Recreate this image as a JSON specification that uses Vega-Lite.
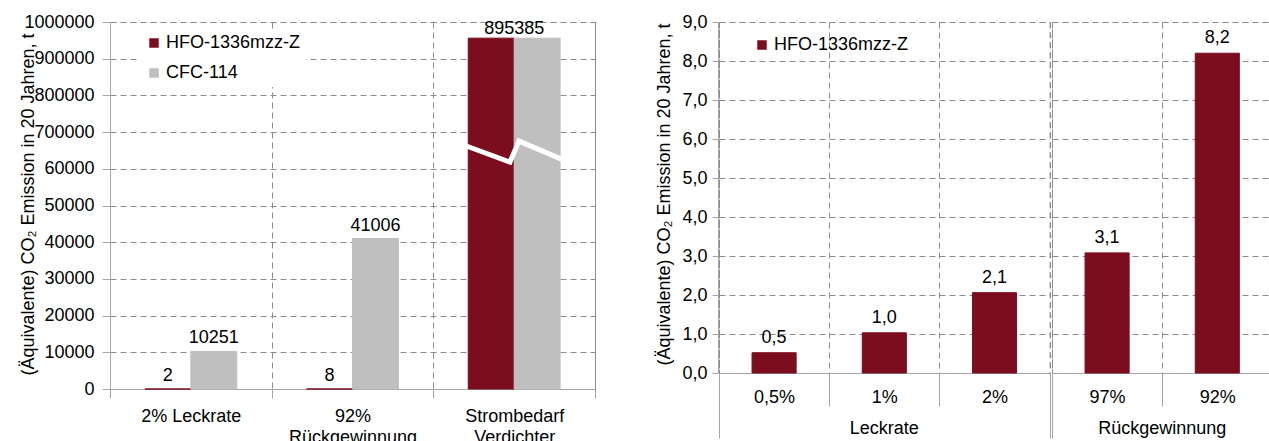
{
  "$schema": "https://vega.github.io/schema/vega-lite/v6.json",
  "padding": {"left": 18, "top": 12, "right": 0, "bottom": 0},
  "datasets": {
    "left": [
      {"cat": "2% Leckrate", "series": "HFO-1336mzz-Z", "value": 2, "label": "2"},
      {"cat": "2% Leckrate", "series": "CFC-114", "value": 10251, "label": "10251"},
      {"cat": "92% Rückgewinnung", "series": "HFO-1336mzz-Z", "value": 8, "label": "8"},
      {"cat": "92% Rückgewinnung", "series": "CFC-114", "value": 41006, "label": "41006"},
      {"cat": "Strombedarf Verdichter", "series": "HFO-1336mzz-Z", "value": 956000},
      {"cat": "Strombedarf Verdichter", "series": "CFC-114", "value": 956000}
    ],
    "leftTotal": [
      {"cat": "Strombedarf Verdichter", "value": 956000, "label": "895385"}
    ],
    "breakLine": [
      {"pos": 2.2, "level": 462000},
      {"pos": 2.474, "level": 176840},
      {"pos": 2.53, "level": 543050},
      {"pos": 2.8, "level": 220000}
    ],
    "right": [
      {"group": "Leckrate", "cat": "0,5%", "series": "HFO-1336mzz-Z", "value": 0.52},
      {"group": "Leckrate", "cat": "1%", "series": "HFO-1336mzz-Z", "value": 1.03},
      {"group": "Leckrate", "cat": "2%", "series": "HFO-1336mzz-Z", "value": 2.06},
      {"group": "Rückgewinnung", "cat": "97%", "series": "HFO-1336mzz-Z", "value": 3.08},
      {"group": "Rückgewinnung", "cat": "92%", "series": "HFO-1336mzz-Z", "value": 8.2}
    ]
  },
  "spacing": 59,
  "resolve": {"scale": {"color": "independent", "stroke": "independent"}, "legend": {"color": "independent"}},
  "hconcat": [
    {
      "width": 485,
      "height": 367,
      "resolve": {"scale": {"x": "independent"}},
      "layer": [
        {
          "layer": [
            {
              "data": {"name": "left"},
              "mark": {"type": "bar", "strokeWidth": 1},
              "encoding": {
                "x": {
                  "field": "cat", "type": "nominal",
                  "sort": ["2% Leckrate", "92% Rückgewinnung", "Strombedarf Verdichter"],
                  "scale": {"paddingInner": 0, "paddingOuter": 0},
                  "axis": {
                    "title": null, "labelAngle": 0, "tickBand": "extent", "grid": true,
                    "tickSize": 9, "labelPadding": 9, "labelBaseline": "top", "labelLineHeight": 21,
                    "labelExpr": "datum.label == '92% Rückgewinnung' ? ['92%', 'Rückgewinnung'] : datum.label == 'Strombedarf Verdichter' ? ['Strombedarf', 'Verdichter'] : datum.label"
                  }
                },
                "xOffset": {
                  "field": "series", "type": "nominal",
                  "sort": ["HFO-1336mzz-Z", "CFC-114"],
                  "scale": {"paddingInner": 0, "paddingOuter": 0.76}
                },
                "y": {
                  "field": "value", "type": "quantitative",
                  "scale": {"domain": [0, 60000, 700000, 1000000], "range": [367, 146.8, 110.1, 0], "nice": false, "zero": false},
                  "axis": {
                    "values": [0, 10000, 20000, 30000, 40000, 50000, 60000, 700000, 800000, 900000, 1000000],
                    "tickCount": 30,
                    "format": "d", "labelOverlap": false, "labelFlush": false,
                    "title": "(Äquivalente) CO₂ Emission in 20 Jahren, t",
                    "titleX": -82, "titleBaseline": "middle", "titleFontSize": 18, "titleY": 182,
                    "tickSize": 8, "labelPadding": 8, "grid": true
                  }
                },
                "color": {
                  "field": "series", "type": "nominal",
                  "scale": {"domain": ["HFO-1336mzz-Z", "CFC-114"], "range": ["#7B0D1E", "#BFBFBF"]},
                  "legend": {
                    "orient": "none", "legendX": 30, "legendY": 7, "title": null,
                    "symbolType": "square", "symbolSize": 90, "symbolStrokeWidth": 0,
                    "labelFontSize": 18, "labelOffset": 3, "rowPadding": 12,
                    "padding": 5, "fillColor": "white"
                  }
                },
                "stroke": {
                  "field": "series", "type": "nominal",
                  "scale": {"domain": ["HFO-1336mzz-Z", "CFC-114"], "range": ["#7B0D1E", "#BFBFBF"]},
                  "legend": null
                }
              }
            },
            {
              "data": {"name": "left"},
              "transform": [{"filter": "isValid(datum.label)"}],
              "mark": {"type": "text", "dy": -13, "fontSize": 18, "baseline": "middle", "color": "#000"},
              "encoding": {
                "x": {"field": "cat", "type": "nominal", "sort": ["2% Leckrate", "92% Rückgewinnung", "Strombedarf Verdichter"]},
                "xOffset": {"field": "series", "type": "nominal", "sort": ["HFO-1336mzz-Z", "CFC-114"]},
                "y": {"field": "value", "type": "quantitative"},
                "text": {"field": "label"}
              }
            },
            {
              "data": {"name": "leftTotal"},
              "mark": {"type": "text", "dy": -9, "fontSize": 18, "baseline": "middle", "color": "#000"},
              "encoding": {
                "x": {"field": "cat", "type": "nominal", "sort": ["2% Leckrate", "92% Rückgewinnung", "Strombedarf Verdichter"]},
                "y": {"field": "value", "type": "quantitative"},
                "text": {"field": "label"}
              }
            }
          ]
        },
        {
          "data": {"name": "breakLine"},
          "mark": {"type": "line", "stroke": "white", "strokeWidth": 5, "strokeJoin": "miter"},
          "encoding": {
            "x": {"field": "pos", "type": "quantitative", "scale": {"domain": [0, 3], "nice": false, "zero": false}, "axis": null},
            "y": {"field": "level", "type": "quantitative"}
          }
        }
      ]
    },
    {
      "data": {"name": "right"},
      "facet": {
        "column": {
          "field": "group", "type": "nominal", "sort": ["Leckrate", "Rückgewinnung"],
          "header": {"title": null, "labelOrient": "bottom", "labelFontSize": 18, "labelPadding": -19, "labelColor": "#000"}
        }
      },
      "spacing": 0,
      "resolve": {"scale": {"x": "independent"}},
      "spec": {
        "width": {"step": 110.2},
        "height": 351,
        "layer": [
          {
            "mark": {"type": "bar", "width": {"band": 0.4}, "strokeWidth": 1},
            "encoding": {
              "x": {
                "field": "cat", "type": "nominal", "sort": ["0,5%", "1%", "2%", "97%", "92%"],
                "scale": {"paddingInner": 0, "paddingOuter": 0},
                "axis": {
                  "title": null, "labelAngle": 0, "tickBand": "extent", "grid": true,
                  "tickSize": {"condition": {"test": "datum.value == '2%' || !isValid(datum.value) || datum.index < 0", "value": 65}, "value": 33},
                  "labelPadding": {"condition": {"test": "datum.value == '2%'", "value": -50}, "value": -18},
                  "labelBaseline": "top"
                }
              },
              "y": {
                "field": "value", "type": "quantitative",
                "scale": {"domain": [0, 9], "nice": false, "zero": true},
                "axis": {
                  "values": [0, 1, 2, 3, 4, 5, 6, 7, 8, 9], "format": ".1f", "tickCount": 30,
                  "labelOverlap": false, "labelFlush": false,
                  "title": "(Äquivalente) CO₂ Emission in 20 Jahren, t",
                  "titleX": -54, "titleBaseline": "middle", "titleFontSize": 18, "titleY": 172,
                  "tickSize": 6, "labelPadding": 5, "grid": true
                }
              },
              "color": {
                "field": "series", "type": "nominal",
                "scale": {"domain": ["HFO-1336mzz-Z"], "range": ["#7B0D1E"]},
                "legend": {
                  "orient": "none", "legendX": 29, "legendY": 9, "title": null,
                  "symbolType": "square", "symbolSize": 90, "symbolStrokeWidth": 0,
                  "labelFontSize": 18, "labelOffset": 3, "padding": 5
                }
              },
              "stroke": {
                "field": "series", "type": "nominal",
                "scale": {"domain": ["HFO-1336mzz-Z"], "range": ["#7B0D1E"]},
                "legend": null
              }
            }
          },
          {
            "mark": {"type": "text", "dy": -15, "fontSize": 18, "baseline": "middle", "color": "#000"},
            "encoding": {
              "x": {"field": "cat", "type": "nominal", "sort": ["0,5%", "1%", "2%", "97%", "92%"]},
              "y": {"field": "value", "type": "quantitative"},
              "text": {"field": "value", "type": "quantitative", "format": ".1f"}
            }
          }
        ]
      }
    }
  ],
  "config": {
    "font": "Liberation Sans",
    "view": {"stroke": "#8c8c8c", "strokeDash": [6, 4], "strokeWidth": 1},
    "axis": {
      "labelFontSize": 18, "titleFontSize": 18, "labelColor": "#000", "titleColor": "#000",
      "titleFontWeight": "normal", "domainColor": "#a6a6a6", "tickColor": "#a6a6a6",
      "gridColor": "#8c8c8c", "gridDash": [6, 4], "gridWidth": 1
    },
    "header": {"labelFont": "Liberation Sans"},
    "legend": {"labelFont": "Liberation Sans", "labelColor": "#000"},
    "locale": {"number": {"decimal": ",", "thousands": ".", "grouping": [3], "currency": ["", " €"]}}
  }
}
